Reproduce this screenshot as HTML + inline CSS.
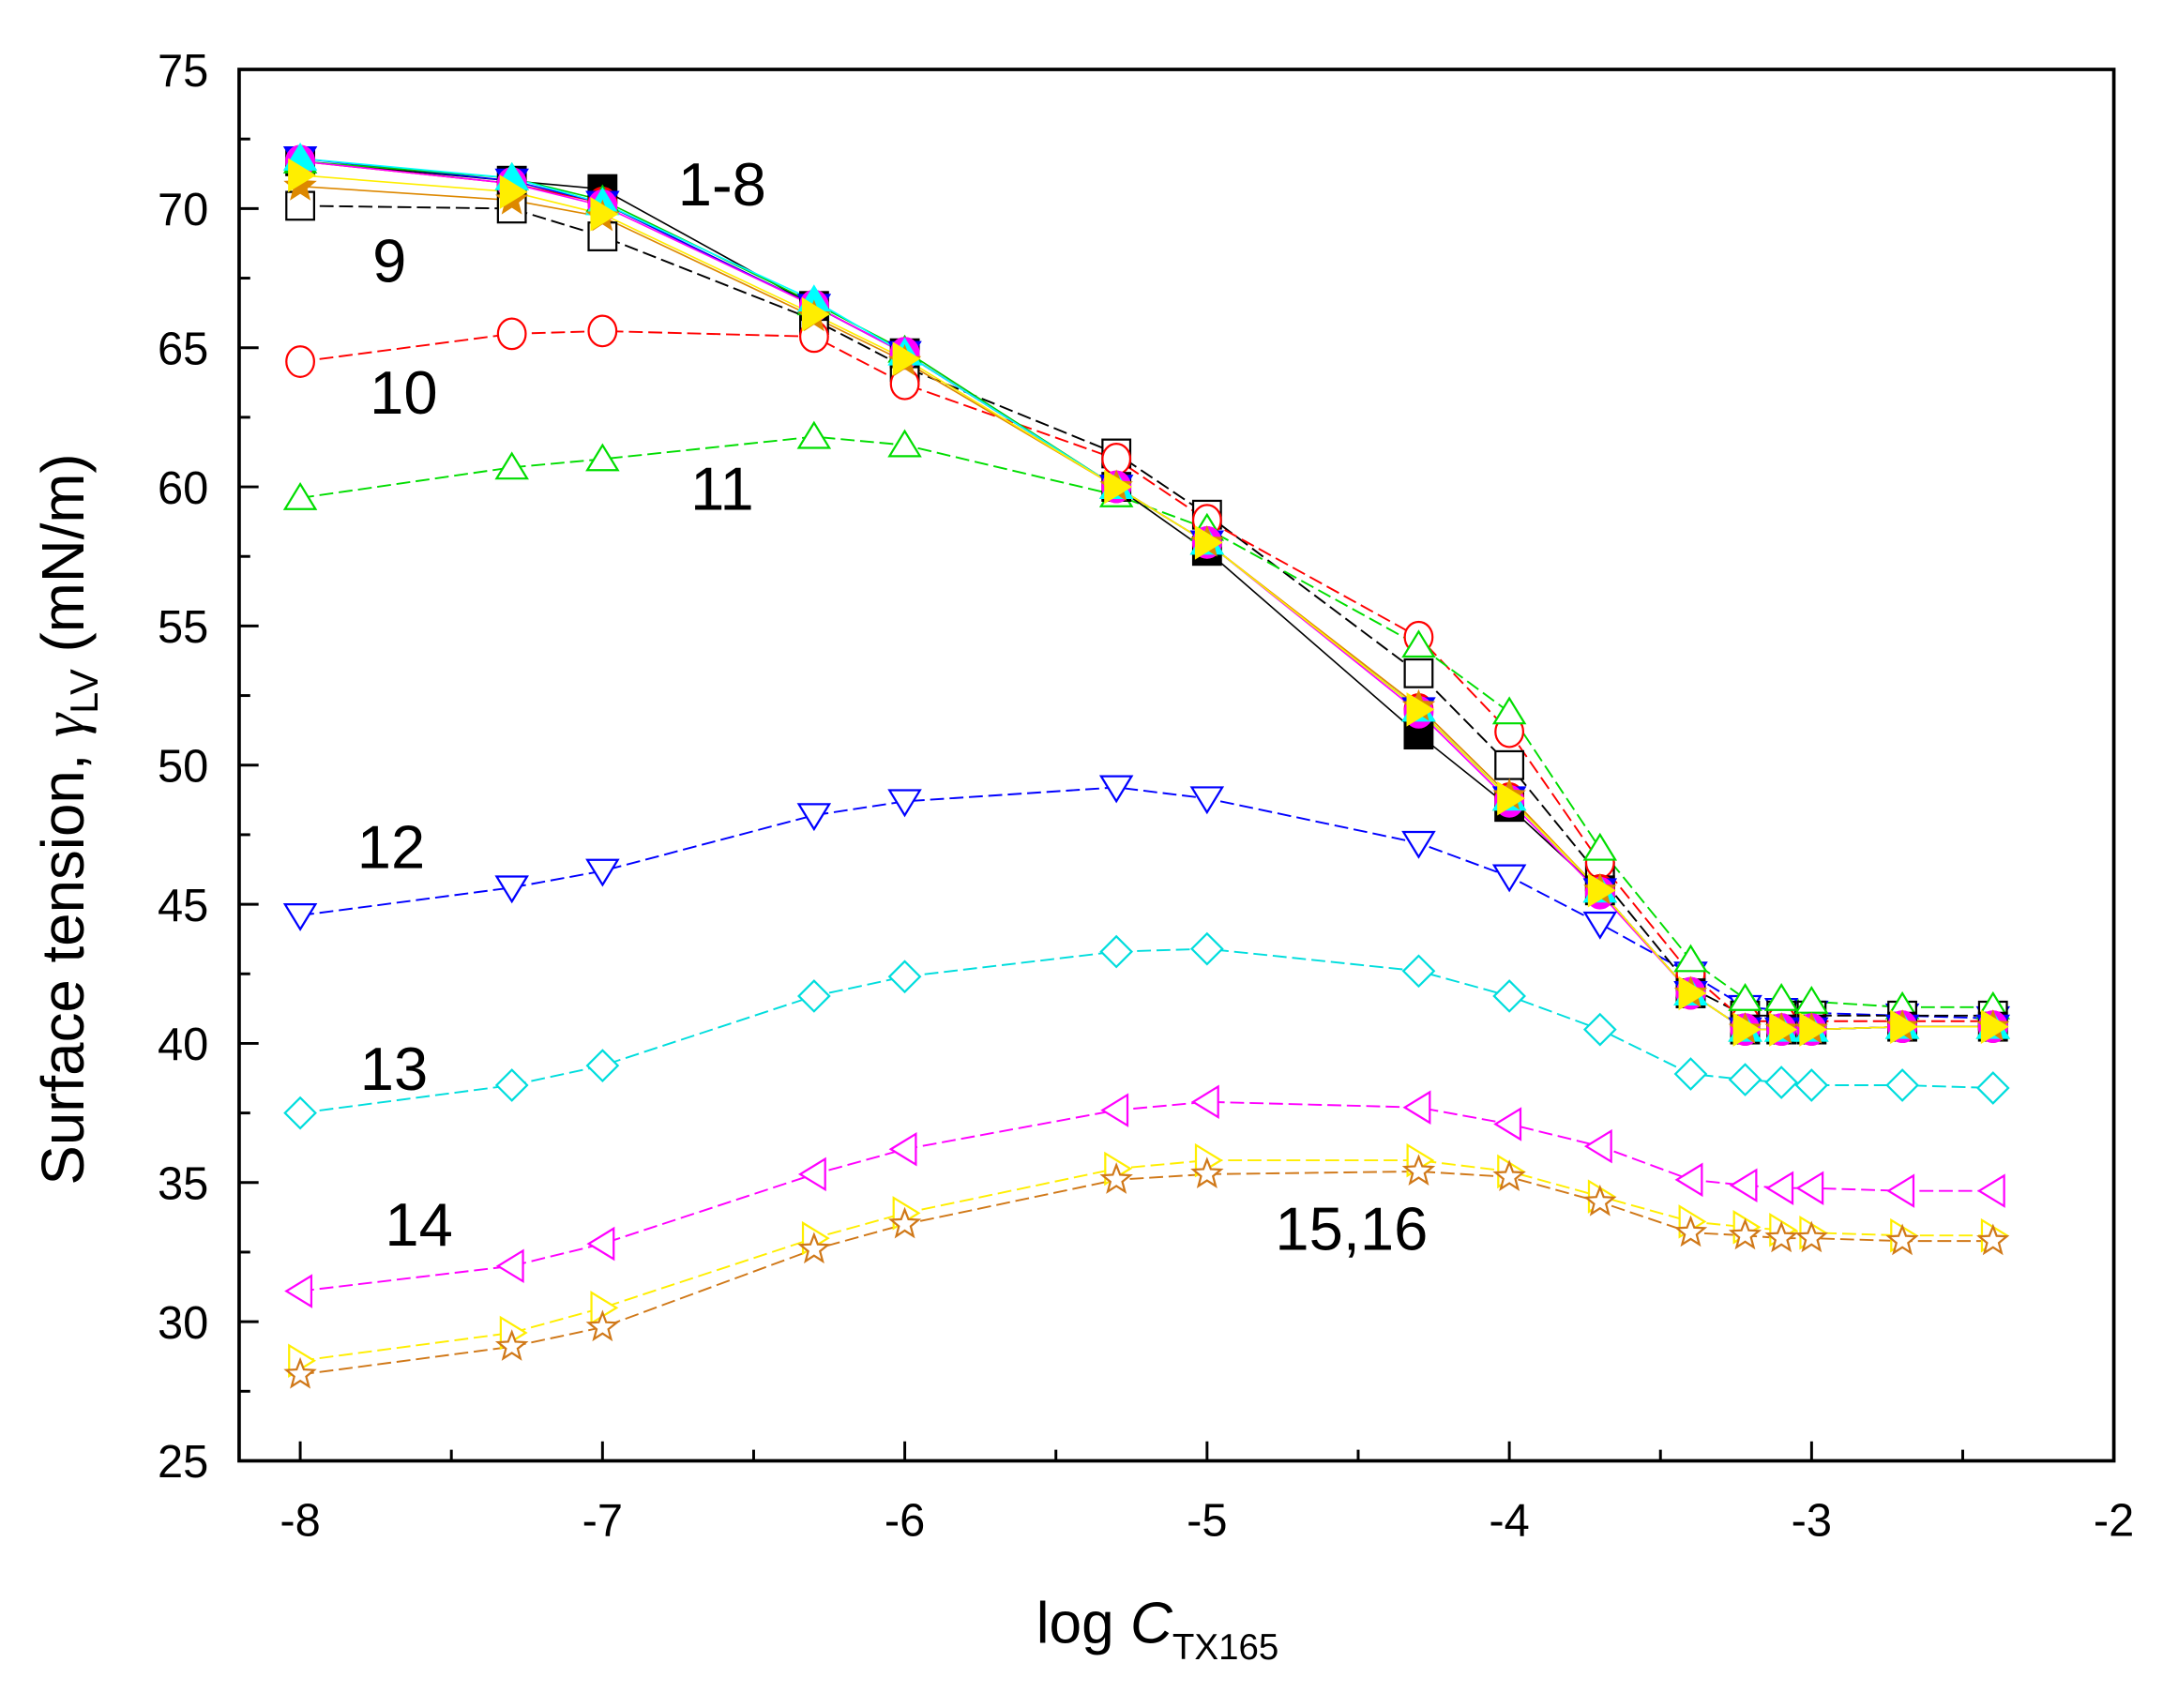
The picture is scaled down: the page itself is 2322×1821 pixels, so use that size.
<!DOCTYPE html>
<html><head><meta charset="utf-8"><style>html,body{margin:0;padding:0;background:#fff}svg{display:block}</style></head>
<body>
<svg id="s" width="2322" height="1821" viewBox="0 0 1568 1230" xmlns="http://www.w3.org/2000/svg" font-family="Liberation Sans, sans-serif">
<rect width="1568" height="1230" fill="#fff"/>
<g id="plot"></g>
<rect x="172" y="50" width="1350" height="1002" fill="none" stroke="#000" stroke-width="2.5"/>
<g id="ticks" stroke="#000" stroke-width="2"></g>
<g font-size="33" fill="#000" text-anchor="end" id="yl"></g>
<g font-size="33" fill="#000" text-anchor="middle" id="xl"></g>
<g font-size="44" fill="#000">
<text x="488" y="148">1-8</text>
<text x="268" y="203">9</text>
<text x="266" y="298">10</text>
<text x="497" y="367">11</text>
<text x="257" y="625">12</text>
<text x="259" y="785">13</text>
<text x="277" y="897">14</text>
<text x="918" y="900">15,16</text>
</g>
<text font-size="42" x="746" y="1183">log <tspan font-style="italic">C</tspan><tspan font-size="26" dy="12">TX165</tspan></text>
<text font-size="43" transform="translate(60,590) rotate(-90)" text-anchor="middle">Surface tension, <tspan font-family="Liberation Serif, serif" font-style="italic">γ</tspan><tspan font-size="28" dy="10">LV</tspan><tspan dy="-10"> (mN/m)</tspan></text>
</svg>
<script>
var NS="http://www.w3.org/2000/svg";
function X(v){return 216+(v+8)*217.67}
function Y(v){return 50+(75-v)*20.04}
function el(t,a,p){var e=document.createElementNS(NS,t);for(var k in a)e.setAttribute(k,a[k]);p.appendChild(e);return e}
var tk=document.getElementById('ticks'),yl=document.getElementById('yl'),xl=document.getElementById('xl');
for(var v=25;v<=75;v+=5){var y=Y(v);el('line',{x1:172,y1:y,x2:186,y2:y},tk);el('text',{x:150,y:y+12},yl).textContent=v;}
for(var v=27.5;v<75;v+=5){var y=Y(v);el('line',{x1:172,y1:y,x2:180,y2:y},tk);}
for(var v=-8;v<=-2;v++){var x=X(v);el('line',{x1:x,y1:1052,x2:x,y2:1038},tk);el('text',{x:x,y:1106},xl).textContent=v;}
for(var v=-7.5;v<-2;v++){var x=X(v);el('line',{x1:x,y1:1052,x2:x,y2:1044},tk);}
var xs=[-8,-7.3,-7,-6.3,-6,-5.3,-5,-4.3,-4,-3.7,-3.4,-3.22,-3.1,-3,-2.7,-2.4];
var base=[71.7,70.9,70.2,66.5,64.8,60,58,52,48.8,45.5,41.8,40.5,40.5,40.5,40.6,40.6];
var S=[
 ['#000000',null,'sq',true,[0,0.1,0.5,0,0,0,-0.3,-0.9,-0.3,0,0,0,0,0,0,0]],
 ['#ff0000',null,'circ',true,[0,0,0,0,0,0,0,0,0,0,0,0,0,0,0,0]],
 ['#0000ff',null,'dtri',true,[0.1,0.1,0,0,0,0,0,0,0,0,0,0,0,0,0,0]],
 ['#00cc00',null,'tri',true,[0,0.2,0.1,0.1,0.1,0,0,0,0,0,0,0,0,0,0,0]],
 ['#ff00ff',null,'circ',true,[0,0,-0.1,0,0,0,0,-0.1,-0.1,-0.1,0,0,0,0,0,0]],
 ['#00ffff',null,'tri',true,[0.1,0.2,0,0.2,0,0,0,0,0,0,0,0,0,0,0,0]],
 ['#dd8800',null,'star',true,[-0.9,-0.6,-0.5,-0.4,-0.3,0,0,0.1,0.1,0,0,0,0,0,0,0]],
 ['#ffee00',null,'rtri',true,[-0.5,-0.3,-0.4,-0.3,-0.2,0,0,0,0,0,0,0,0,0,0,0]]
];
var open=[
 ['#000000','sq',[70.1,70.0,69.0,66,64.3,61.2,59,53.3,50,46,42,41,41,41,41,41]],
 ['#ff0000','circ',[64.5,65.5,65.6,65.4,63.7,61,58.8,54.6,51.2,46.5,42.5,40.8,40.8,40.8,40.8,40.8]],
 ['#00dd00','tri',[59.6,60.7,61,61.8,61.5,59.7,58.5,54.3,51.9,47,43,41.6,41.6,41.5,41.3,41.3]],
 ['#0000ff','dtri',[44.6,45.6,46.2,48.2,48.7,49.2,48.8,47.2,46,44.3,42.5,41.3,41.2,41.1,41,40.9]],
 ['#00dddd','dia',[37.5,38.5,39.2,41.7,42.4,43.3,43.4,42.6,41.7,40.5,38.9,38.7,38.6,38.5,38.5,38.4]],
 ['#ff00ff','ltri',[31.1,32,32.8,35.3,36.2,37.6,37.9,37.7,37.1,36.3,35.1,34.9,34.8,34.8,34.7,34.7]],
 ['#ffee00','rtri',[28.6,29.6,30.5,33,33.9,35.5,35.8,35.8,35.4,34.5,33.6,33.4,33.3,33.2,33.1,33.1]],
 ['#d07818','star',[28.1,29.1,29.8,32.6,33.5,35.1,35.3,35.4,35.2,34.3,33.2,33.1,33.0,33.0,32.9,32.9]]
];
var g=document.getElementById('plot');
function marker(type,x,y,c,fill){
 var r=10,a={stroke:c,'stroke-width':1.5,fill:fill?c:'#fff'};
 if(type=='sq'){a.x=x-r;a.y=y-r;a.width=2*r;a.height=2*r;el('rect',a,g);return}
 if(type=='circ'){a.cx=x;a.cy=y;a.rx=r;a.ry=r*1.1;el('ellipse',a,g);return}
 var p;
 if(type=='tri')p=[[x,y-r],[x+r*1.1,y+r*0.8],[x-r*1.1,y+r*0.8]];
 if(type=='dtri')p=[[x,y+r],[x+r*1.1,y-r*0.8],[x-r*1.1,y-r*0.8]];
 if(type=='ltri')p=[[x-r,y],[x+r*0.8,y-r*1.1],[x+r*0.8,y+r*1.1]];
 if(type=='rtri')p=[[x+r,y],[x-r*0.8,y-r*1.1],[x-r*0.8,y+r*1.1]];
 if(type=='dia')p=[[x,y-r*1.1],[x+r*1.1,y],[x,y+r*1.1],[x-r*1.1,y]];
 if(type=='star'){p=[];for(var i=0;i<10;i++){var rr=i%2?r*0.45:r*1.05,an=-Math.PI/2+i*Math.PI/5;p.push([x+rr*Math.cos(an),y+rr*Math.sin(an)])}}
 a.points=p.map(function(q){return q[0].toFixed(1)+','+q[1].toFixed(1)}).join(' ');el('polygon',a,g);
}
function line(vals,c,dash,w){el('polyline',{points:xs.map(function(x,i){return X(x).toFixed(1)+','+Y(vals[i]).toFixed(1)}).join(' '),fill:'none',stroke:c,'stroke-width':w||1.3,'stroke-dasharray':dash},g)}
open.forEach(function(s,k){if(k>=3)line(s[2],s[0],'10,4')});
open.slice(0,3).forEach(function(s){line(s[2],s[0],'10,4')});
S.forEach(function(s){var v=base.map(function(b,i){return b+s[4][i]});s.v=v;line(v,s[0],'none',1.1)});
open.forEach(function(s,k){if(k>=3)s[2].forEach(function(v,i){marker(s[1],X(xs[i]),Y(v),s[0],false)})});
open.slice(0,3).forEach(function(s){s[2].forEach(function(v,i){marker(s[1],X(xs[i]),Y(v),s[0],false)})});
S.forEach(function(s){s.v.forEach(function(v,i){marker(s[2],X(xs[i]),Y(v),s[0],true)})});
</script>
</body></html>
